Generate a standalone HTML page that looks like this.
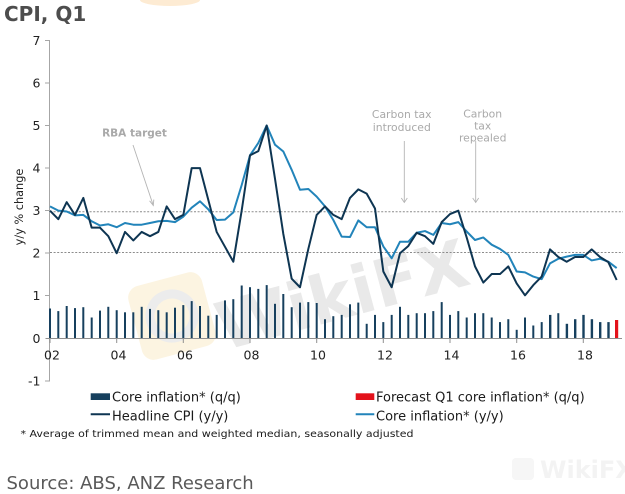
<!DOCTYPE html>
<html>
<head>
<meta charset="utf-8">
<style>
html,body{margin:0;padding:0;background:#fff;}
svg{display:block;}
text{font-family:"DejaVu Sans","Liberation Sans",sans-serif;}
</style>
</head>
<body>
<svg width="625" height="494" viewBox="0 0 625 494" xmlns="http://www.w3.org/2000/svg">
<rect x="0" y="0" width="625" height="494" fill="#fff"/>

<!-- faint watermarks -->
<ellipse cx="170" cy="0" rx="30" ry="6" fill="#fdebd3"/>
<g transform="rotate(-15 172 316)">
  <rect x="134" y="278" width="76" height="76" rx="12" fill="#fcf4e1"/>
  <circle cx="172" cy="316" r="22" fill="none" stroke="#ececec" stroke-width="9"/>
</g>
<text x="342" y="318" font-size="66" font-weight="bold" fill="#e9e9e9" text-anchor="middle" transform="rotate(-15 342 295)">WikiFX</text>
<rect x="512" y="458" width="22" height="22" rx="4" fill="#f6f6f6"/>
<text x="540" y="478" font-size="24" font-weight="bold" fill="#f3f3f3">WikiFX</text>

<!-- title -->
<text x="4" y="21" font-size="20" font-weight="bold" fill="#4d4d4d">CPI, Q1</text>

<!-- y axis -->
<line x1="49.5" y1="40" x2="49.5" y2="381.5" stroke="#a6a6a6" stroke-width="1"/>
<g stroke="#a6a6a6" stroke-width="1">
  <line x1="45" y1="40.5" x2="50" y2="40.5"/>
  <line x1="45" y1="83" x2="50" y2="83"/>
  <line x1="45" y1="125.5" x2="50" y2="125.5"/>
  <line x1="45" y1="168" x2="50" y2="168"/>
  <line x1="45" y1="210.5" x2="50" y2="210.5"/>
  <line x1="45" y1="253" x2="50" y2="253"/>
  <line x1="45" y1="295.5" x2="50" y2="295.5"/>
  <line x1="45" y1="381" x2="50" y2="381"/>
</g>
<g font-size="12.5" fill="#222" text-anchor="end">
  <text x="40.5" y="45">7</text>
  <text x="40.5" y="87.5">6</text>
  <text x="40.5" y="130">5</text>
  <text x="40.5" y="172.5">4</text>
  <text x="40.5" y="215">3</text>
  <text x="40.5" y="257.5">2</text>
  <text x="40.5" y="300">1</text>
  <text x="40.5" y="343">0</text>
  <text x="40.5" y="385.5">-1</text>
</g>
<text x="0" y="0" font-size="11.3" fill="#222" text-anchor="middle" transform="translate(23 207) rotate(-90)">y/y % change</text>

<!-- RBA band gridlines -->
<line x1="50" y1="211.7" x2="623" y2="211.7" stroke="#8c8c8c" stroke-width="1" stroke-dasharray="2,1.6"/>
<line x1="50" y1="252.5" x2="623" y2="252.5" stroke="#8c8c8c" stroke-width="1" stroke-dasharray="2,1.6"/>

<!-- bars -->
<g fill="#17405e">
<rect x="49" y="308.5" width="2" height="29.8"/>
<rect x="57.3" y="311.1" width="2" height="27.2"/>
<rect x="65.7" y="306" width="2" height="32.3"/>
<rect x="74" y="308.1" width="2" height="30.2"/>
<rect x="82.3" y="307.2" width="2" height="31.1"/>
<rect x="90.7" y="317.5" width="2" height="20.8"/>
<rect x="99" y="310.6" width="2" height="27.7"/>
<rect x="107.3" y="306.8" width="2" height="31.5"/>
<rect x="115.7" y="310.2" width="2" height="28.1"/>
<rect x="124" y="312.3" width="2" height="26"/>
<rect x="132.3" y="312.3" width="2" height="26"/>
<rect x="140.7" y="306.8" width="2" height="31.5"/>
<rect x="149" y="308.9" width="2" height="29.4"/>
<rect x="157.3" y="310.2" width="2" height="28.1"/>
<rect x="165.7" y="312.3" width="2" height="26"/>
<rect x="174" y="307.7" width="2" height="30.6"/>
<rect x="182.3" y="305.1" width="2" height="33.2"/>
<rect x="190.7" y="301.1" width="2" height="37.2"/>
<rect x="199" y="306" width="2" height="32.3"/>
<rect x="207.3" y="315.7" width="2" height="22.6"/>
<rect x="215.7" y="314.9" width="2" height="23.4"/>
<rect x="224" y="300.4" width="2" height="37.9"/>
<rect x="232.3" y="299.2" width="2" height="39.1"/>
<rect x="240.7" y="285.5" width="2" height="52.8"/>
<rect x="249" y="287.2" width="2" height="51.1"/>
<rect x="257.3" y="288.9" width="2" height="49.4"/>
<rect x="265.7" y="285.1" width="2" height="53.2"/>
<rect x="274" y="303.8" width="2" height="34.5"/>
<rect x="282.3" y="294" width="2" height="44.3"/>
<rect x="290.7" y="307.2" width="2" height="31.1"/>
<rect x="299" y="302.6" width="2" height="35.7"/>
<rect x="307.3" y="302.1" width="2" height="36.2"/>
<rect x="315.7" y="303" width="2" height="35.3"/>
<rect x="324" y="319.2" width="2" height="19.1"/>
<rect x="332.3" y="316.2" width="2" height="22.1"/>
<rect x="340.7" y="314.9" width="2" height="23.4"/>
<rect x="349" y="304.3" width="2" height="34"/>
<rect x="357.3" y="302.6" width="2" height="35.7"/>
<rect x="365.7" y="323.8" width="2" height="14.5"/>
<rect x="374" y="314.9" width="2" height="23.4"/>
<rect x="382.3" y="322.1" width="2" height="16.2"/>
<rect x="390.7" y="314.9" width="2" height="23.4"/>
<rect x="399" y="306.8" width="2" height="31.5"/>
<rect x="407.3" y="314.9" width="2" height="23.4"/>
<rect x="415.7" y="313.2" width="2" height="25.1"/>
<rect x="424" y="313.2" width="2" height="25.1"/>
<rect x="432.3" y="311.1" width="2" height="27.2"/>
<rect x="440.7" y="302.1" width="2" height="36.2"/>
<rect x="449" y="314.9" width="2" height="23.4"/>
<rect x="457.3" y="311.1" width="2" height="27.2"/>
<rect x="465.7" y="317.5" width="2" height="20.8"/>
<rect x="474" y="313.2" width="2" height="25.1"/>
<rect x="482.3" y="313.2" width="2" height="25.1"/>
<rect x="490.7" y="317.5" width="2" height="20.8"/>
<rect x="499" y="322.1" width="2" height="16.2"/>
<rect x="507.3" y="319.2" width="2" height="19.1"/>
<rect x="515.7" y="329.8" width="2" height="8.5"/>
<rect x="524" y="317.5" width="2" height="20.8"/>
<rect x="532.3" y="325.5" width="2" height="12.8"/>
<rect x="540.7" y="322.1" width="2" height="16.2"/>
<rect x="549" y="314.9" width="2.4" height="23.4"/>
<rect x="557.3" y="313.2" width="2" height="25.1"/>
<rect x="565.7" y="323.8" width="2.4" height="14.5"/>
<rect x="574" y="319.2" width="2.4" height="19.1"/>
<rect x="582.3" y="314.9" width="2.4" height="23.4"/>
<rect x="590.7" y="319.2" width="2.4" height="19.1"/>
<rect x="599" y="322.1" width="2.4" height="16.2"/>
<rect x="607.3" y="322.1" width="2.4" height="16.2"/>
</g>
<rect x="615" y="320" width="3.2" height="18.3" fill="#e3121b"/>

<!-- x axis -->
<line x1="45.5" y1="338.5" x2="622" y2="338.5" stroke="#8f8f8f" stroke-width="1"/>
<g stroke="#8f8f8f" stroke-width="1">
  <line x1="50" y1="338.5" x2="50" y2="343"/>
  <line x1="116.7" y1="338.5" x2="116.7" y2="343"/>
  <line x1="183.3" y1="338.5" x2="183.3" y2="343"/>
  <line x1="250" y1="338.5" x2="250" y2="343"/>
  <line x1="316.7" y1="338.5" x2="316.7" y2="343"/>
  <line x1="383.3" y1="338.5" x2="383.3" y2="343"/>
  <line x1="450" y1="338.5" x2="450" y2="343"/>
  <line x1="516.7" y1="338.5" x2="516.7" y2="343"/>
  <line x1="583.3" y1="338.5" x2="583.3" y2="343"/>
</g>
<g font-size="12.5" fill="#222" text-anchor="middle">
  <text x="52" y="359.5">02</text>
  <text x="118.5" y="359.5">04</text>
  <text x="185" y="359.5">06</text>
  <text x="251.5" y="359.5">08</text>
  <text x="318" y="359.5">10</text>
  <text x="385" y="359.5">12</text>
  <text x="451.5" y="359.5">14</text>
  <text x="518" y="359.5">16</text>
  <text x="585" y="359.5">18</text>
</g>

<!-- core inflation y/y -->
<polyline fill="none" stroke="#2284ba" stroke-width="2" stroke-linejoin="round" points="
50,206.4 58.33,210.65 66.67,211.5 75,215.33 83.33,214.9 91.67,221.29 100,225.54 108.33,224.27
116.67,227.24 125,222.99 133.33,224.69 141.67,224.69 150,222.99 158.33,221.29 166.67,220.86 175,222.14
183.33,216.61 191.67,207.67 200,201.29 208.33,209.37 216.67,220.01 225,219.59 233.33,212.35 241.67,185.12
250,155.34 258.33,142.99 266.67,125.55 275,144.7 283.33,151.5 291.67,169.8 300,189.8 308.33,188.95
316.67,196.61 325,206.4 333.33,220.01 341.67,236.61 350,237.03 358.33,220.44 366.67,227.24 375,227.24
383.33,246.39 391.67,258.31 400,241.71 408.33,241.71 416.67,232.78 425,231.07 433.33,234.9 441.67,222.99
450,224.27 458.33,222.14 466.67,231.5 475,240.01 483.33,237.46 491.67,244.69 500,248.94 508.33,254.9
516.67,271.5 525,272.35 533.33,276.6 541.67,279.16 550,263.41 558.33,258.73 566.67,256.6 575,254.9
583.33,254.9 591.67,260.43 600,258.73 608.33,261.71 616.67,268.09"/>

<!-- headline CPI y/y -->
<polyline fill="none" stroke="#0e3552" stroke-width="2" stroke-linejoin="round" points="
50,210.65 58.33,219.16 66.67,202.14 75,214.9 83.33,197.89 91.67,227.67 100,227.67 108.33,236.18
116.67,253.2 125,231.93 133.33,240.44 141.67,231.93 150,236.18 158.33,231.93 166.67,206.4 175,219.16
183.33,214.9 191.67,168.1 200,168.1 208.33,200.01 216.67,231.93 225,246.82 233.33,261.71 241.67,210.65
250,155.34 258.33,151.08 266.67,125.55 275,178.74 283.33,234.05 291.67,278.73 300,287.24 308.33,248.94
316.67,214.9 325,206.4 333.33,214.9 341.67,219.16 350,197.89 358.33,189.38 366.67,193.63 375,208.53
383.33,271.5 391.67,287.24 400,253.2 408.33,245.97 416.67,232.78 425,236.18 433.33,243.84 441.67,222.14
450,214.05 458.33,210.65 466.67,237.46 475,266.39 483.33,282.56 491.67,274.05 500,274.05 508.33,266.39
516.67,283.41 525,295.32 533.33,285.11 541.67,276.6 550,249.37 558.33,257.03 566.67,261.71 575,257.03
583.33,257.03 591.67,249.37 600,257.03 608.33,262.14 616.67,280.01"/>

<!-- annotations -->
<text x="134.5" y="136.5" font-size="10.5" font-weight="bold" fill="#a9a9a9" text-anchor="middle">RBA target</text>
<g stroke="#b4b4b4" stroke-width="0.9" fill="none">
  <line x1="133" y1="145" x2="153.3" y2="205.5"/>
  <polyline points="149.6,200.8 153.3,205.5 153.8,199.6"/>
  <line x1="404.3" y1="141" x2="404.3" y2="202.5"/>
  <polyline points="401.3,198 404.3,202.5 407.3,198"/>
  <line x1="475.7" y1="141" x2="475.7" y2="202.5"/>
  <polyline points="472.7,198 475.7,202.5 478.7,198"/>
</g>
<g font-size="10.8" fill="#a9a9a9" text-anchor="middle">
  <text x="401.7" y="118">Carbon tax</text>
  <text x="401.8" y="131">introduced</text>
  <text x="482.7" y="117.5">Carbon</text>
  <text x="482.7" y="129.5">tax</text>
  <text x="482.7" y="141.5">repealed</text>
</g>

<!-- legend -->
<rect x="90.7" y="393.3" width="19.3" height="6.7" fill="#17405e"/>
<text x="112" y="401.5" font-size="13" fill="#1a1a1a">Core inflation* (q/q)</text>
<rect x="355.7" y="393.3" width="18.6" height="6.7" fill="#e3121b"/>
<text x="376" y="401.5" font-size="13" fill="#1a1a1a">Forecast Q1 core inflation* (q/q)</text>
<line x1="90.7" y1="414.3" x2="110" y2="414.3" stroke="#0e3552" stroke-width="2"/>
<text x="112" y="420.3" font-size="13" fill="#1a1a1a">Headline CPI (y/y)</text>
<line x1="355.7" y1="414.3" x2="374.3" y2="414.3" stroke="#2284ba" stroke-width="2"/>
<text x="376" y="420.3" font-size="13" fill="#1a1a1a">Core inflation* (y/y)</text>

<text x="20.5" y="437" font-size="10" fill="#1a1a1a" textLength="393" lengthAdjust="spacingAndGlyphs">* Average of trimmed mean and weighted median, seasonally adjusted</text>

<text x="6.5" y="489" font-size="18" fill="#595959">Source: ABS, ANZ Research</text>
</svg>
</body>
</html>
